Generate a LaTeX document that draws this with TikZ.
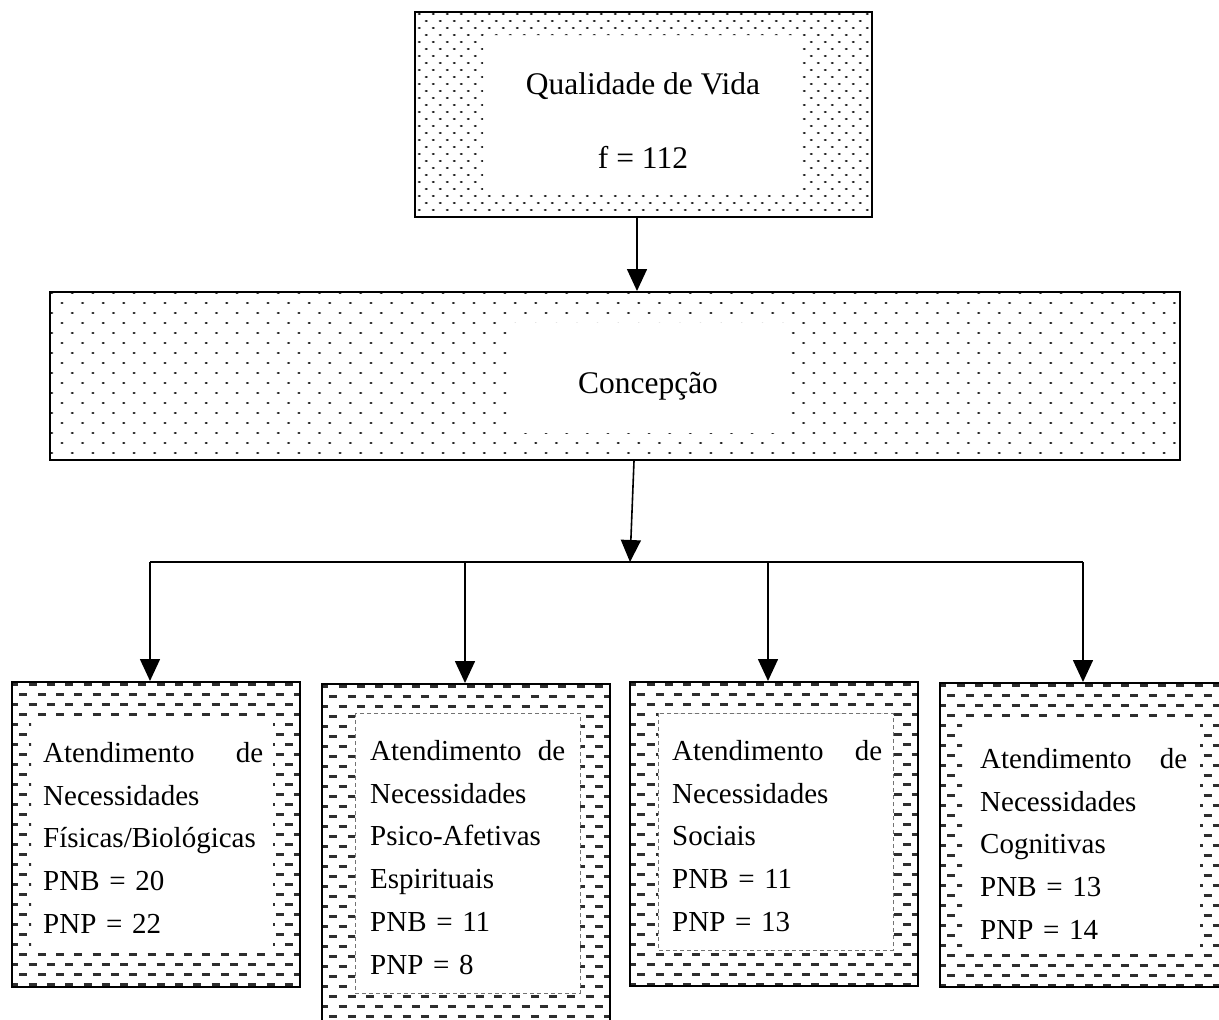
\documentclass[tikz,border=0pt]{standalone}
\usepackage{fontspec}
\setmainfont{Liberation Serif}
\usetikzlibrary{arrows.meta}
\newcommand\bigtxt{\fontsize{31.5}{38}\selectfont}
\newcommand\boxtxt{\fontsize{29}{42.8}\selectfont}
% outer x1 y1 x2 y2, inner x1 y1 x2 y2
\newcommand\myDashFrame[8]{%
  \begin{scope}[even odd rule]
    \clip (#1,#2) rectangle (#3,#4) (#5,#6) rectangle (#7,#8);
    \foreach \k in {0,...,36} {
      \draw[dashrow] ({#1-20+mod(\k,2)*9.15},{#2+2+10*\k}) -- ({#3+20},{#2+2+10*\k});
    }
  \end{scope}}
\begin{document}
\begin{tikzpicture}[x=1pt,y=-1pt,
  dashrow/.style={line width=3pt,black!82,dash pattern=on 8pt off 10.3pt},
  dotrowA/.style={line width=2.7pt,black!85,line cap=round,dash pattern=on 0.6pt off 13.4pt},
  dotrowB/.style={line width=2.7pt,black!85,line cap=round,dash pattern=on 0.6pt off 20pt},
  frame/.style={draw=black,line width=2pt,rectangle,inner sep=0pt},
  innerdash/.style={draw=black!55,line width=0.6pt,dash pattern=on 4pt off 3pt},
  arr/.style={line width=1.6pt,-{Triangle[length=22pt,width=20pt]}},
  conn/.style={line width=1.6pt}]
\useasboundingbox (0,0) rectangle (1219,1020);
\clip (0,0) rectangle (1219,1020);
\fill[white] (0,0) rectangle (1219,1020);

% ---- top box pattern
\begin{scope}[even odd rule]
  \clip (415,12) rectangle (872,217) (483,35) rectangle (802,190);
  \foreach \k in {0,...,30} {
    \draw[dotrowA] ({405+mod(\k,2)*7},{14+7*\k}) -- (885,{14+7*\k});
  }
\end{scope}

% ---- Concepcao pattern
\begin{scope}[even odd rule]
  \clip (50,292) rectangle (1180,460) (510,322) rectangle (785,433);
  \foreach \k in {0,...,17} {
    \draw[dotrowB] ({41.1+mod(\k+1,2)*10.3},{293+10*\k}) -- (1195,{293+10*\k});
  }
\end{scope}

% ---- bottom box patterns
\myDashFrame{12}{682}{300}{987}{31}{718}{273}{953}
\myDashFrame{322}{684}{610}{1035}{355}{713}{580}{993}
\myDashFrame{630}{682}{918}{986}{658}{713}{893}{950}
\myDashFrame{940}{683}{1235}{987}{962}{722}{1200}{953}

\draw[innerdash] (355,713) rectangle (580,993);
\draw[innerdash] (658,713) rectangle (893,950);

% ---- frames
\node[frame,minimum width=457pt,minimum height=205pt] (qv) at (643.5,114.5) {};
\node[frame,minimum width=1130pt,minimum height=168pt] (conc) at (615,376) {};
\node[frame,minimum width=288pt,minimum height=305pt] (b1) at (156,834.5) {};
\node[frame,minimum width=288pt,minimum height=351pt] (b2) at (466,859.5) {};
\node[frame,minimum width=288pt,minimum height=304pt] (b3) at (774,834) {};
\node[frame,minimum width=295pt,minimum height=304pt] (b4) at (1087.5,835) {};

% ---- texts
\node[anchor=base,inner sep=0pt,font=\bigtxt] (qvt1) at (643,94) {Qualidade de Vida};
\node[anchor=base,inner sep=0pt,font=\bigtxt] (qvt2) at (643,168) {f = 112};
\node[anchor=base,inner sep=0pt,font=\bigtxt] (conct) at (648,393) {Concepção};

\node[anchor=north west,inner sep=0pt,text width=220pt,align=left,font=\boxtxt] (t1) at (43,742)
  {Atendimento\hfill de\\Necessidades\\Físicas/Biológicas\\PNB = 20\\PNP = 22};
\node[anchor=north west,inner sep=0pt,text width=195pt,align=left,font=\boxtxt] (t2) at (370,740)
  {Atendimento\hfill de\\Necessidades\\Psico-Afetivas\\Espirituais\\PNB = 11\\PNP = 8};
\node[anchor=north west,inner sep=0pt,text width=210pt,align=left,font=\boxtxt] (t3) at (672,740)
  {Atendimento\hfill de\\Necessidades\\Sociais\\PNB = 11\\PNP = 13};
\node[anchor=north west,inner sep=0pt,text width=207pt,align=left,font=\boxtxt] (t4) at (980,748)
  {Atendimento\hfill de\\Necessidades\\Cognitivas\\PNB = 13\\PNP = 14};

% ---- connectors
\coordinate (x1) at (637,0);
\coordinate (x2) at (634,0);
\coordinate (jc) at (630,562);
\coordinate (j1) at (150,562);
\coordinate (j2) at (465,562);
\coordinate (j3) at (768,562);
\coordinate (j4) at (1083,562);

\draw[arr] (qv.south -| x1) -- (conc.north -| x1);
\draw[arr] (conc.south -| x2) -- (jc);
\draw[conn] (j1) -- (j4);
\draw[arr] (j1) -- (b1.north -| j1);
\draw[arr] (j2) -- (b2.north -| j2);
\draw[arr] (j3) -- (b3.north -| j3);
\draw[arr] (j4) -- (b4.north -| j4);
\end{tikzpicture}
\end{document}
